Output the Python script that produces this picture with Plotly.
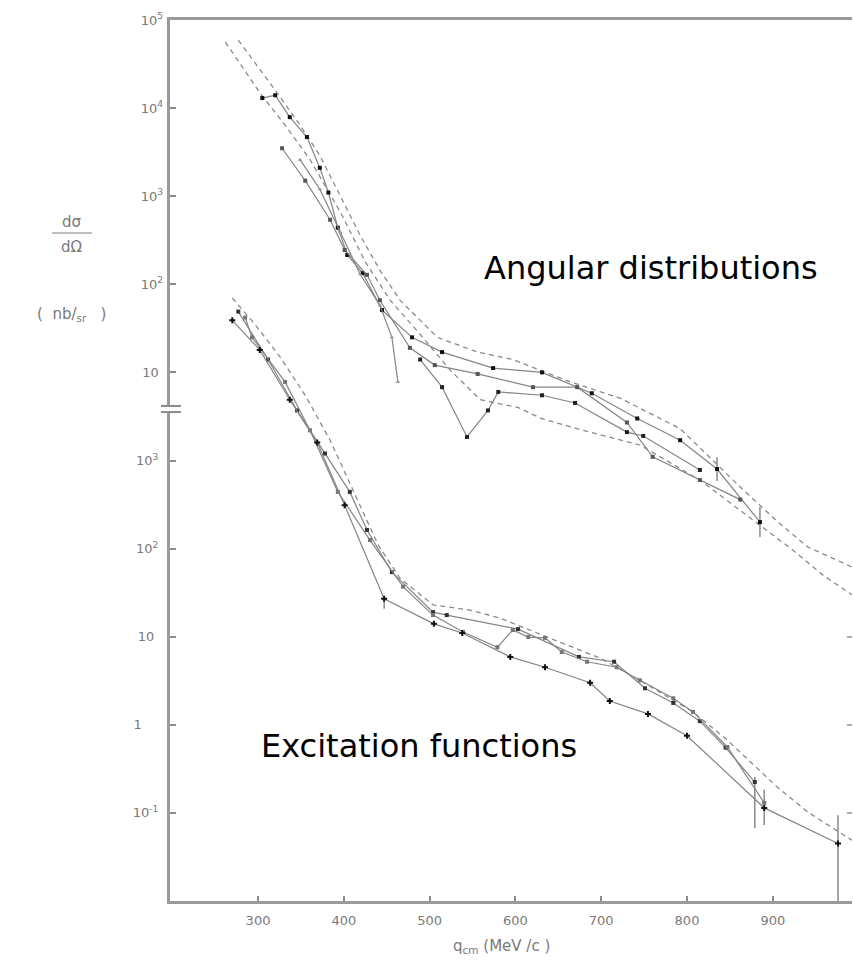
import plotly.graph_objects as go

# ---------------- data (q_cm in MeV/c, dsigma/dOmega in nb/sr) ----------------
x_ticks = [300, 400, 500, 600, 700, 800, 900]

# Angular distributions (upper group, own log scale)
ang_th1_x = [277, 296.5, 322, 349, 372, 396, 419, 442, 465.5, 509, 556, 597, 664, 722, 792, 862, 906, 941, 975, 992]
ang_th1_y = [5.9e4, 3.3e4, 1.5e4, 6.4e3, 2.9e3, 1.0e3, 360, 145, 66, 25, 17, 14, 7.8, 5.1, 2.3, 0.50, 0.20, 0.104, 0.074, 0.062]
ang_th2_x = [262, 282.5, 302, 331.5, 360.6, 396, 425, 454, 489, 524, 559, 603, 630, 679, 745, 815, 885, 923.5, 958.5, 992]
ang_th2_y = [5.6e4, 2.9e4, 1.5e4, 6.4e3, 2.6e3, 660, 180, 66, 27, 10.6, 4.9, 4.0, 3.0, 2.2, 1.5, 0.60, 0.185, 0.096, 0.050, 0.030]

ang_a_x = [305, 320, 337, 357, 372, 382, 393, 404, 422, 444.5, 479.5, 514.5, 574, 631, 689, 742, 792, 835, 885]
ang_a_y = [1.3e4, 1.4e4, 7.9e3, 4.7e3, 2.1e3, 1.1e3, 440, 215, 134, 51, 25, 17, 11.2, 10, 5.8, 3.0, 1.7, 0.80, 0.20]
ang_a_eup = [0] * 17 + [0.29, 0.096]
ang_a_edn = [0] * 17 + [0.215, 0.065]

ang_b_x = [328, 355, 384, 401, 427, 442, 477, 506, 556, 620.5, 672, 730, 760, 815, 862]
ang_b_y = [3.5e3, 1.5e3, 540, 245, 128, 66, 19, 12.1, 9.6, 6.8, 6.8, 2.7, 1.1, 0.60, 0.36]

ang_c_x = [349, 372, 396, 419, 442, 456, 463]
ang_c_y = [2.6e3, 1.2e3, 390, 130, 58, 25, 7.8]

ang_d_x = [489, 514.5, 543.6, 568, 580, 631, 669.5, 730, 749, 815]
ang_d_y = [14, 6.8, 1.85, 3.7, 6.0, 5.5, 4.5, 2.1, 1.9, 0.78]

# Excitation functions (lower group)
exc_th_x = [270, 296.5, 325.6, 355, 384, 413, 440, 465.5, 504, 547, 582, 637, 699, 745, 807, 847, 905, 941, 992]
exc_th_y = [7.0e4, 3.5e4, 1.5e4, 5.5e3, 1.7e3, 410, 110, 46, 23, 20, 16.3, 9.9, 5.7, 3.2, 1.40, 0.67, 0.197, 0.102, 0.049]

exc_a_x = [277, 311.7, 345.5, 378, 407, 427, 456, 504, 520, 603, 674, 715, 751, 784, 815, 845, 879]
exc_a_y = [4.9e4, 1.4e4, 3.7e3, 1.2e3, 440, 163, 54, 19, 17.6, 12.2, 5.9, 5.2, 2.6, 1.77, 1.10, 0.55, 0.224]
exc_a_eup = [0] * 16 + [0.031]
exc_a_edn = [0] * 16 + [0.157]

exc_b_x = [285, 293, 331.5, 360.6, 393, 430.5, 469, 504, 539, 579, 597, 615, 634.5, 654, 683.5, 718, 745, 784, 807, 847, 890]
exc_b_y = [4.2e4, 2.5e4, 7.8e3, 2.2e3, 440, 125, 37, 17.6, 11.3, 7.6, 11.9, 9.9, 9.7, 6.7, 5.2, 4.5, 3.2, 2.0, 1.4, 0.56, 0.13]
exc_b_eup = [0] * 20 + [0.053]
exc_b_edn = [0] * 20 + [0.057]

exc_c_x = [270, 302, 337, 369, 401, 447, 505, 538, 594, 634.5, 687, 710, 754.5, 800, 890, 976]
exc_c_y = [3.9e4, 1.8e4, 4.9e3, 1.6e3, 310, 27, 14, 11.0, 5.9, 4.5, 3.0, 1.86, 1.33, 0.75, 0.114, 0.045]
exc_c_eup = [0] * 15 + [0.049]
exc_c_edn = [0, 0, 0, 0, 0, 6.2, 0, 0, 0, 0, 0, 0, 0, 0, 0, 0.0449]

# ---------------- styles ----------------
LINE = '#858585'
DASH = '#8a8a8a'
AX = '#9a9a9a'
TXT = '#7a7a7a'

fig = go.Figure()


def solid(x, y, axis, mcolor, symbol='square', size=4, eup=None, edn=None):
    kw = {}
    if eup is not None:
        kw['error_y'] = dict(type='data', array=eup, arrayminus=edn, symmetric=False,
                             color='#8a8a8a', thickness=1.5, width=0)
    fig.add_trace(go.Scatter(x=x, y=y, yaxis=axis, mode='lines+markers',
                             line=dict(color=LINE, width=1.2),
                             marker=dict(symbol=symbol, size=size, color=mcolor,
                                         line=dict(width=0)),
                             hoverinfo='skip', **kw))


def dashed(x, y, axis):
    fig.add_trace(go.Scatter(x=x, y=y, yaxis=axis, mode='lines',
                             line=dict(color=DASH, width=1.3, dash='5px,4px'),
                             hoverinfo='skip'))


# upper group
dashed(ang_th1_x, ang_th1_y, 'y2')
dashed(ang_th2_x, ang_th2_y, 'y2')
solid(ang_a_x, ang_a_y, 'y2', '#111111', eup=ang_a_eup, edn=ang_a_edn)
solid(ang_b_x, ang_b_y, 'y2', '#555555')
solid(ang_c_x, ang_c_y, 'y2', '#999999', symbol='triangle-up', size=4)
solid(ang_d_x, ang_d_y, 'y2', '#222222')

# lower group
dashed(exc_th_x, exc_th_y, 'y')
solid(exc_a_x, exc_a_y, 'y', '#333333', size=4, eup=exc_a_eup, edn=exc_a_edn)
solid(exc_b_x, exc_b_y, 'y', '#777777', eup=exc_b_eup, edn=exc_b_edn)
solid(exc_c_x, exc_c_y, 'y', '#111111', symbol='cross', size=5, eup=exc_c_eup, edn=exc_c_edn)

# carrier for the right-hand mirror ticks of the lower scale
fig.add_trace(go.Scatter(x=[600], y=[1], yaxis='y3', mode='markers',
                         marker=dict(opacity=0), hoverinfo='skip'))

tickfont = dict(family='DejaVu Sans', size=13, color=TXT)

fig.update_layout(
    width=853, height=960,
    margin=dict(l=170, r=1, t=20, b=59, autoexpand=False),
    paper_bgcolor='white', plot_bgcolor='white',
    showlegend=False,
    font=dict(family='DejaVu Sans', color=TXT),
    xaxis=dict(range=[197.4, 992.3], tickmode='array', tickvals=x_ticks,
               ticktext=[str(v) for v in x_ticks],
               ticks='inside', ticklen=5, tickwidth=1.5, tickcolor='#8a8a8a',
               showline=True, linecolor=AX, linewidth=2.5, mirror=True,
               showgrid=False, zeroline=False, tickfont=tickfont,
               ticklabelstandoff=6),
    yaxis=dict(type='log', range=[-2, 8], tickmode='array',
               tickvals=[0.1, 1, 10, 100, 1000],
               ticktext=['10<sup>-1</sup>', '1\u00a0\u00a0\u00a0\u00a0', '10\u00a0', '10<sup>2</sup>', '10<sup>3</sup>'],
               ticks='inside', ticklen=6, tickwidth=1.5, tickcolor='#8a8a8a',
               showline=True, linecolor=AX, linewidth=3, mirror=False,
               showgrid=False, zeroline=False, tickfont=tickfont,
               ticklabelstandoff=6, automargin=False),
    yaxis2=dict(type='log', range=[-5, 5], overlaying='y', side='left',
                tickmode='array', tickvals=[10, 100, 1000, 1e4, 1e5],
                ticktext=['10\u00a0', '10<sup>2</sup>', '10<sup>3</sup>', '10<sup>4</sup>', '10<sup>5</sup>'],
                ticks='inside', ticklen=6, tickwidth=1.5, tickcolor='#8a8a8a',
                showline=False, showgrid=False, zeroline=False, tickfont=tickfont,
                ticklabelstandoff=6, automargin=False),
    yaxis3=dict(type='log', range=[-2, 8], overlaying='y', side='right',
                tickmode='array', tickvals=[0.1, 1, 10], showticklabels=False,
                ticks='inside', ticklen=5, tickwidth=1.5, tickcolor='#b0b0b0',
                showline=False, showgrid=False, zeroline=False, automargin=False),
)

# axis break mark on the left axis
fig.add_shape(type='rect', xref='paper', yref='paper', x0=-0.006, x1=0.006,
              y0=0.5550, y1=0.5619, fillcolor='white', line=dict(width=0), layer='above')
for yy in (0.5550, 0.5619):
    fig.add_shape(type='line', xref='paper', yref='paper', x0=-0.0132, x1=0.0161,
                  y0=yy, y1=yy, line=dict(color='#8a8a8a', width=2), layer='above')

# y-axis title: dσ/dΩ (nb/sr)
fig.add_annotation(xref='paper', yref='paper', x=-0.1437, y=0.7707, text='dσ',
                   xanchor='center', yanchor='middle',
                   showarrow=False, font=dict(size=15, color=TXT))
fig.add_shape(type='line', xref='paper', yref='paper', x0=-0.1730, x1=-0.1144,
              y0=0.7582, y1=0.7582, line=dict(color='#aaaaaa', width=1.5))
fig.add_annotation(xref='paper', yref='paper', x=-0.1437, y=0.7423, text='dΩ',
                   xanchor='center', yanchor='middle',
                   showarrow=False, font=dict(size=15, color=TXT))
fig.add_annotation(xref='paper', yref='paper', x=-0.1437, y=0.6652,
                   text='(\u00a0\u00a0nb/<sub>sr</sub>\u00a0\u00a0\u00a0)',
                   xanchor='center', yanchor='middle',
                   showarrow=False, font=dict(size=15, color=TXT))

# x-axis title
fig.add_annotation(xref='paper', yref='paper', x=0.4868, y=-0.0511,
                   text='q<sub>cm</sub>\u00a0(MeV\u00a0/c\u00a0)', showarrow=False,
                   xanchor='center', yanchor='middle',
                   font=dict(size=15, color=TXT))

# group labels
fig.add_annotation(xref='paper', yref='paper', x=0.7053, y=0.7185,
                   text='Angular distributions', showarrow=False,
                   xanchor='center', yanchor='middle',
                   font=dict(family='DejaVu Sans', size=32, color='black'))
fig.add_annotation(xref='paper', yref='paper', x=0.3644, y=0.1759,
                   text='Excitation functions', showarrow=False,
                   xanchor='center', yanchor='middle',
                   font=dict(family='DejaVu Sans', size=32, color='black'))

fig.write_html('out.html')
